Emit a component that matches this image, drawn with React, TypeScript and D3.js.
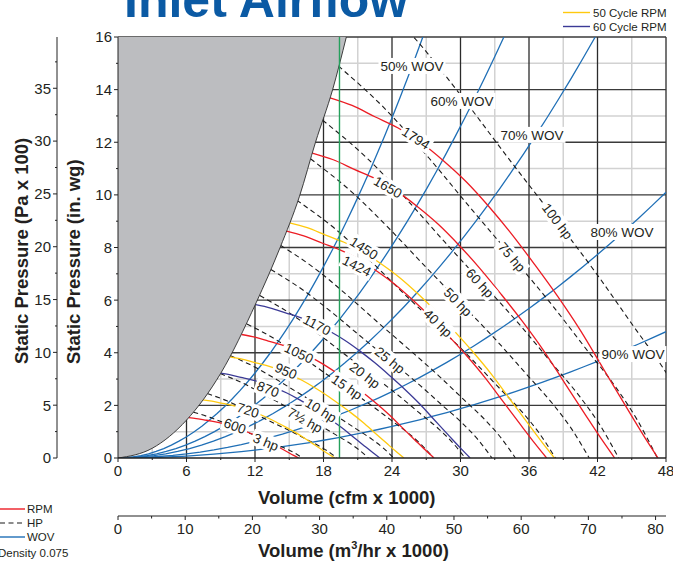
import React, { useMemo } from 'react';
import * as d3 from 'd3';

const FONT = '"Liberation Sans", Arial, Helvetica, sans-serif';

// ---------------- data ----------------
// surge (stall) boundary, cfm x1000 vs in. wg
const surgeX = [0, 3, 6, 9, 12.1, 14.2, 15.9, 17.3, 18.8, 20];
const surgeY = [0, 0.37, 1.44, 3.22, 5.9, 8.0, 9.95, 12.0, 14.0, 16];

// fan curve at the top speed (1794 rpm); other speeds follow the fan laws (Q~N, P~N^2)
const baseRpm = 1794;
const baseCurveX = [18.5, 20.5, 22.5, 24.5, 26.5, 28.5, 30.5, 32.5, 34.5, 36.5, 38.5, 40.5, 42.5, 44.5, 46, 47.3];
const baseCurveY = [13.7, 13.4, 12.97, 12.55, 12.0, 11.3, 10.5, 9.55, 8.5, 7.35, 6.15, 4.85, 3.4, 1.95, 0.88, 0];

const rpmValues = [1794, 1650, 1450, 1424, 1170, 1050, 950, 870, 720, 600];
const rpmSeries = ['RPM', 'RPM', '50', 'RPM', '60', 'RPM', '50', '60', '50', 'RPM'];
const rpmLabelX = [26.1, 23.65, 21.55, 20.93, 17.43, 15.85, 14.71, 13.14, 11.39, 10.25];
const rpmLabelY = [12.16, 10.3, 7.98, 7.3, 5.06, 3.99, 3.31, 2.62, 1.82, 1.22];

// 100 hp contour (starts on the surge line); other powers follow HP~N^3
const baseHp = 100;
const baseHpX = [21.24, 25.9, 30, 34, 38, 42, 45, 48, 50, 52];
const baseHpY = [18.05, 16.0, 13.8, 11.5, 9.25, 6.95, 5.1, 3.25, 1.8, 0];

const hpValues = [3, 5, 7.5, 10, 15, 20, 25, 30, 40, 50, 60, 75, 100];
const hpLabelText = ['3 hp', '', '7½ hp', '10 hp', '15 hp', '20 hp', '25 hp', '', '40 hp', '50 hp', '60 hp', '75 hp', '100 hp'];
const hpLabelX = [12.96, 0, 16.38, 17.78, 20.06, 21.63, 23.82, 0, 28.03, 29.78, 31.7, 34.5, 38.5];
const hpLabelY = [0.61, 0, 1.44, 1.82, 2.7, 3.15, 3.72, 0, 5.13, 5.93, 6.65, 7.64, 9.0];

// wide-open-volume system curves (through the origin), where each leaves the plot
const wovNames = ['50% WOV', '60% WOV', '70% WOV', '80% WOV', '90% WOV'];
const wovEndX = [26.7, 33.8, 41.8, 48, 48];
const wovEndY = [16, 16, 16, 10.1, 4.8];
const wovLabelX = [25.75, 30.13, 36.26, 44.14, 45.1];
const wovLabelY = [14.9, 13.57, 12.28, 8.59, 3.95];

const greenX = 19.4;

const xTicks = [0, 6, 12, 18, 24, 30, 36, 42, 48];
const yTicks = [0, 2, 4, 6, 8, 10, 12, 14, 16];
const paTicks = [0, 5, 10, 15, 20, 25, 30, 35];
const m3Ticks = [0, 10, 20, 30, 40, 50, 60, 70, 80];

const COL = {
  RPM: '#ec1c24',
  '50': '#ffc90e',
  '60': '#3b3a96',
  wov: '#1f6fb6',
  hp: '#1b1b1b',
  green: '#25a05c',
  grey: '#bcbdc0',
  text: '#231f20',
  title: '#0b5aa4',
};

const IN_PER_PA100 = 100 / 249.09;
const M3_PER_CFM = 1.699;

type P = [number, number];

let measureCtx: CanvasRenderingContext2D | null = null;
function measure(t: string, size: number): number {
  if (!measureCtx) measureCtx = document.createElement('canvas').getContext('2d');
  if (!measureCtx) return t.length * size * 0.55;
  measureCtx.font = `${size}px ${FONT}`;
  return measureCtx.measureText(t).width;
}

export default function App() {
  const xS = d3.scaleLinear().domain([0, 48]).range([118, 666]);
  const yS = d3.scaleLinear().domain([0, 16]).range([458, 37]);
  const line = d3
    .line<P>()
    .x((d) => xS(d[0]))
    .y((d) => yS(d[1]))
    .curve(d3.curveMonotoneX);
  const straight = d3
    .line<P>()
    .x((d) => xS(d[0]))
    .y((d) => yS(d[1]));

  const angleAt = (pts: P[], x: number): number => {
    let i = 0;
    while (i < pts.length - 2 && pts[i + 1][0] < x) i++;
    const a = pts[i];
    const b = pts[i + 1];
    const dx = xS(b[0]) - xS(a[0]);
    const dy = yS(b[1]) - yS(a[1]);
    return (Math.atan2(dy, dx) * 180) / Math.PI;
  };

  const data = useMemo(() => {
    const rpm = rpmValues.map((n, i) => {
      const r = n / baseRpm;
      const pts: P[] = baseCurveX.map((x, j) => [x * r, baseCurveY[j] * r * r]);
      return { n, kind: rpmSeries[i], pts, lx: rpmLabelX[i], ly: rpmLabelY[i] };
    });
    const hp = hpValues.map((h, i) => {
      const s = Math.cbrt(h / baseHp);
      const pts: P[] = baseHpX.map((x, j) => [x * s, baseHpY[j] * s * s]);
      return { h, pts, text: hpLabelText[i], lx: hpLabelX[i], ly: hpLabelY[i] };
    });
    const wov = wovNames.map((name, i) => {
      const k = wovEndY[i] / (wovEndX[i] * wovEndX[i]);
      const pts: P[] = d3.range(0, 41).map((j) => {
        const x = (wovEndX[i] * j) / 40;
        return [x, k * x * x] as P;
      });
      return { name, pts, lx: wovLabelX[i], ly: wovLabelY[i] };
    });
    return { rpm, hp, wov };
  }, []);

  const surgePts: P[] = surgeX.map((x, i) => [x, surgeY[i]]);
  const surgePath = line(surgePts) || '';
  const greyPath = surgePath + `L${xS(0)},${yS(16)}Z`;

  const minorX = d3.range(3, 48, 6);
  const minorY = d3.range(1, 16, 2);

  const curveLabel = (key: string, text: string, x: number, y: number, ang: number, size = 13.5) => {
    const w = measure(text, size);
    return (
      <g key={key} transform={`translate(${xS(x)},${yS(y)}) rotate(${ang})`}>
        <rect x={-w / 2 - 2} y={-8} width={w + 4} height={16} fill="#fff" />
        <text textAnchor="middle" dy="0.36em" fontSize={size} fill={COL.text}>
          {text}
        </text>
      </g>
    );
  };

  return (
    <svg
      width={673}
      height={567}
      viewBox="0 0 673 567"
      style={{ position: 'absolute', left: 0, top: 0 }}
      fontFamily={FONT}
    >
      <defs>
        <clipPath id="plotClip">
          <rect x={118} y={37} width={548} height={421} />
        </clipPath>
      </defs>
      <rect x={0} y={0} width={673} height={567} fill="#fff" />

      {/* title */}
      <text x={124} y={17} fontSize={50} fontWeight="bold" fill={COL.title}>
        Inlet Airflow
      </text>

      {/* grid */}
      <g>
        {minorX.map((v) => (
          <line key={'mx' + v} x1={xS(v)} x2={xS(v)} y1={yS(0)} y2={yS(16)} stroke="#d2d2d2" strokeWidth={1.5} />
        ))}
        {minorY.map((v) => (
          <line key={'my' + v} x1={xS(0)} x2={xS(48)} y1={yS(v)} y2={yS(v)} stroke="#d2d2d2" strokeWidth={1.5} />
        ))}
        {xTicks.slice(1).map((v) => (
          <line key={'Mx' + v} x1={xS(v)} x2={xS(v)} y1={yS(0)} y2={yS(16)} stroke="#2b2b2b" strokeWidth={1.3} />
        ))}
        {yTicks.slice(1).map((v) => (
          <line key={'My' + v} x1={xS(0)} x2={xS(48)} y1={yS(v)} y2={yS(v)} stroke="#3a3a3a" strokeWidth={1.3} />
        ))}
      </g>

      <g clipPath="url(#plotClip)">
        {data.wov.map((w) => (
          <path key={w.name} d={straight(w.pts) || ''} fill="none" stroke={COL.wov} strokeWidth={1.3} />
        ))}
        {data.hp.map((h) => (
          <path
            key={'hp' + h.h}
            d={line(h.pts) || ''}
            fill="none"
            stroke={COL.hp}
            strokeWidth={1.1}
            strokeDasharray="5 3.5"
          />
        ))}
        {data.rpm.map((r) => (
          <path
            key={'rpm' + r.n}
            d={line(r.pts) || ''}
            fill="none"
            stroke={(COL as any)[r.kind]}
            strokeWidth={1.3}
          />
        ))}
        <path d={greyPath} fill={COL.grey} stroke="none" />
        <path d={surgePath} fill="none" stroke="#2a2a2a" strokeWidth={0.9} />
        <line x1={xS(greenX)} x2={xS(greenX)} y1={yS(0)} y2={yS(16)} stroke={COL.green} strokeWidth={1.4} />
      </g>

      {/* labels on curves */}
      <g>
        {data.rpm.map((r) => curveLabel('lr' + r.n, String(r.n), r.lx, r.ly, angleAt(r.pts, r.lx)))}
        {data.hp
          .filter((h) => h.text)
          .map((h) => curveLabel('lh' + h.h, h.text, h.lx, h.ly, angleAt(h.pts, h.lx)))}
        {data.wov.map((w) => curveLabel('lw' + w.name, w.name, w.lx, w.ly, 0))}
      </g>

      {/* main axes */}
      <line x1={xS(0)} x2={xS(0)} y1={yS(0)} y2={yS(16)} stroke="#222" strokeWidth={1} />
      <line x1={xS(0)} x2={xS(48)} y1={yS(0)} y2={yS(0)} stroke="#222" strokeWidth={1.3} />
      {d3.range(0, 17, 1).map((v) => (
        <line key={'yt' + v} x1={xS(0) - (v % 2 === 0 ? 4 : 2)} x2={xS(0)} y1={yS(v)} y2={yS(v)} stroke="#222" strokeWidth={1} />
      ))}
      {yTicks.map((v) => (
        <text key={'yl' + v} x={112} y={yS(v)} dy="0.36em" textAnchor="end" fontSize={15} fill={COL.text}>
          {v}
        </text>
      ))}
      {d3.range(0, 49, 3).map((v) => (
        <line key={'xt' + v} x1={xS(v)} x2={xS(v)} y1={yS(0)} y2={yS(0) + (v % 6 === 0 ? 4 : 2)} stroke="#222" strokeWidth={1} />
      ))}
      {xTicks.map((v) => (
        <text key={'xl' + v} x={xS(v)} y={476} textAnchor="middle" fontSize={15} fill={COL.text}>
          {v}
        </text>
      ))}
      <text x={258} y={504} fontSize={18.5} fontWeight="bold" fill={COL.text}>
        Volume (cfm x 1000)
      </text>

      {/* Pa axis */}
      <line x1={57} x2={57} y1={yS(0)} y2={yS(16)} stroke="#222" strokeWidth={1} />
      {d3.range(0, 40, 2.5).map((v) => (
        <line
          key={'pt' + v}
          x1={57 - (v % 5 === 0 ? 4 : 2)}
          x2={57}
          y1={yS(v * IN_PER_PA100)}
          y2={yS(v * IN_PER_PA100)}
          stroke="#222"
          strokeWidth={1}
        />
      ))}
      {paTicks.map((v) => (
        <text key={'pl' + v} x={51} y={yS(v * IN_PER_PA100)} dy="0.36em" textAnchor="end" fontSize={15} fill={COL.text}>
          {v}
        </text>
      ))}

      <text transform="translate(28,364) rotate(-90)" fontSize={18.5} fontWeight="bold" fill={COL.text}>
        Static Pressure (Pa x 100)
      </text>
      <text transform="translate(80,364) rotate(-90)" fontSize={18.5} fontWeight="bold" fill={COL.text}>
        Static Pressure (in. wg)
      </text>

      {/* metric volume axis */}
      <line x1={xS(0)} x2={xS(48)} y1={516} y2={516} stroke="#222" strokeWidth={1.2} />
      {d3.range(0, 85, 5).map((v) => (
        <line
          key={'mt' + v}
          x1={xS(v / M3_PER_CFM)}
          x2={xS(v / M3_PER_CFM)}
          y1={516}
          y2={516 + (v % 10 === 0 ? 4 : 2.5)}
          stroke="#222"
          strokeWidth={1}
        />
      ))}
      {m3Ticks.map((v) => (
        <text key={'ml' + v} x={xS(v / M3_PER_CFM)} y={534} textAnchor="middle" fontSize={15} fill={COL.text}>
          {v}
        </text>
      ))}
      <text x={258} y={557} fontSize={18.5} fontWeight="bold" fill={COL.text}>
        Volume (m
        <tspan fontSize={11} dy={-8}>3</tspan>
        <tspan dy={8}>/hr x 1000)</tspan>
      </text>

      {/* legend bottom-left */}
      <line x1={0} x2={25} y1={509} y2={509} stroke={COL.RPM} strokeWidth={1.4} />
      <text x={27} y={513} fontSize={11.5} fill={COL.text}>RPM</text>
      <line x1={0} x2={25} y1={523} y2={523} stroke={COL.hp} strokeWidth={1.1} strokeDasharray="5 3.5" />
      <text x={27} y={527} fontSize={11.5} fill={COL.text}>HP</text>
      <line x1={0} x2={25} y1={537} y2={537} stroke={COL.wov} strokeWidth={1.4} />
      <text x={27} y={541} fontSize={11.5} fill={COL.text}>WOV</text>
      <text x={-2} y={557} fontSize={11.5} fill={COL.text}>Density 0.075</text>

      {/* legend top-right */}
      <line x1={563} x2={590} y1={12.5} y2={12.5} stroke={COL['50']} strokeWidth={1.4} />
      <text x={593} y={17} fontSize={11.5} fill={COL.text}>50 Cycle RPM</text>
      <line x1={563} x2={590} y1={26.5} y2={26.5} stroke={COL['60']} strokeWidth={1.4} />
      <text x={593} y={31} fontSize={11.5} fill={COL.text}>60 Cycle RPM</text>
    </svg>
  );
}
